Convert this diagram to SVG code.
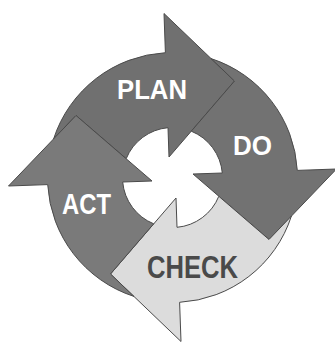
<svg xmlns="http://www.w3.org/2000/svg" width="335" height="347" viewBox="0 0 335 347">
<style>
.arrow{stroke:#4a4a4a;stroke-width:1;stroke-linejoin:round}
.lbl{font-family:"Liberation Sans",Arial,sans-serif;font-weight:bold;lengthAdjust:spacingAndGlyphs}
.w{fill:#ffffff}
.d{fill:#4a4a4a}
</style>
<defs>
<path id="arrowShape" d="M -46.3,-18.8 L -96.5,-62 L -118.9,-38.6 A 125 125 0 0 1 -7.1,-124.8 L -8.5,-164 L 62,-96.5 L -3.5,-20.5 L -4.5,-49.8 A 50 50 0 0 0 -46.3,-18.8 Z"/>
</defs>
<rect width="335" height="347" fill="#ffffff"/>
<g id="plan">
<use href="#arrowShape" class="arrow" fill="#707070" transform="translate(172.5,177.5)"/>
<text class="lbl w" x="117" y="99" font-size="28" textLength="70" lengthAdjust="spacingAndGlyphs">PLAN</text>
</g>
<g id="do">
<use href="#arrowShape" class="arrow" fill="#727272" transform="translate(172.5,177.5) rotate(90)"/>
<text class="lbl w" x="233" y="155" font-size="28" textLength="39" lengthAdjust="spacingAndGlyphs">DO</text>
</g>
<g id="check">
<use href="#arrowShape" class="arrow" fill="#dcdcdc" stroke="#2a2a2a" transform="translate(172.5,177.5) rotate(180)"/>
<text class="lbl d" x="147" y="278" font-size="32" textLength="91" lengthAdjust="spacingAndGlyphs">CHECK</text>
</g>
<g id="act">
<use href="#arrowShape" class="arrow" fill="#7a7a7a" transform="translate(172.5,177.5) rotate(270)"/>
<text class="lbl w" x="62" y="214" font-size="29" textLength="49" lengthAdjust="spacingAndGlyphs">ACT</text>
</g>
<g id="connectors"></g>
</svg>
